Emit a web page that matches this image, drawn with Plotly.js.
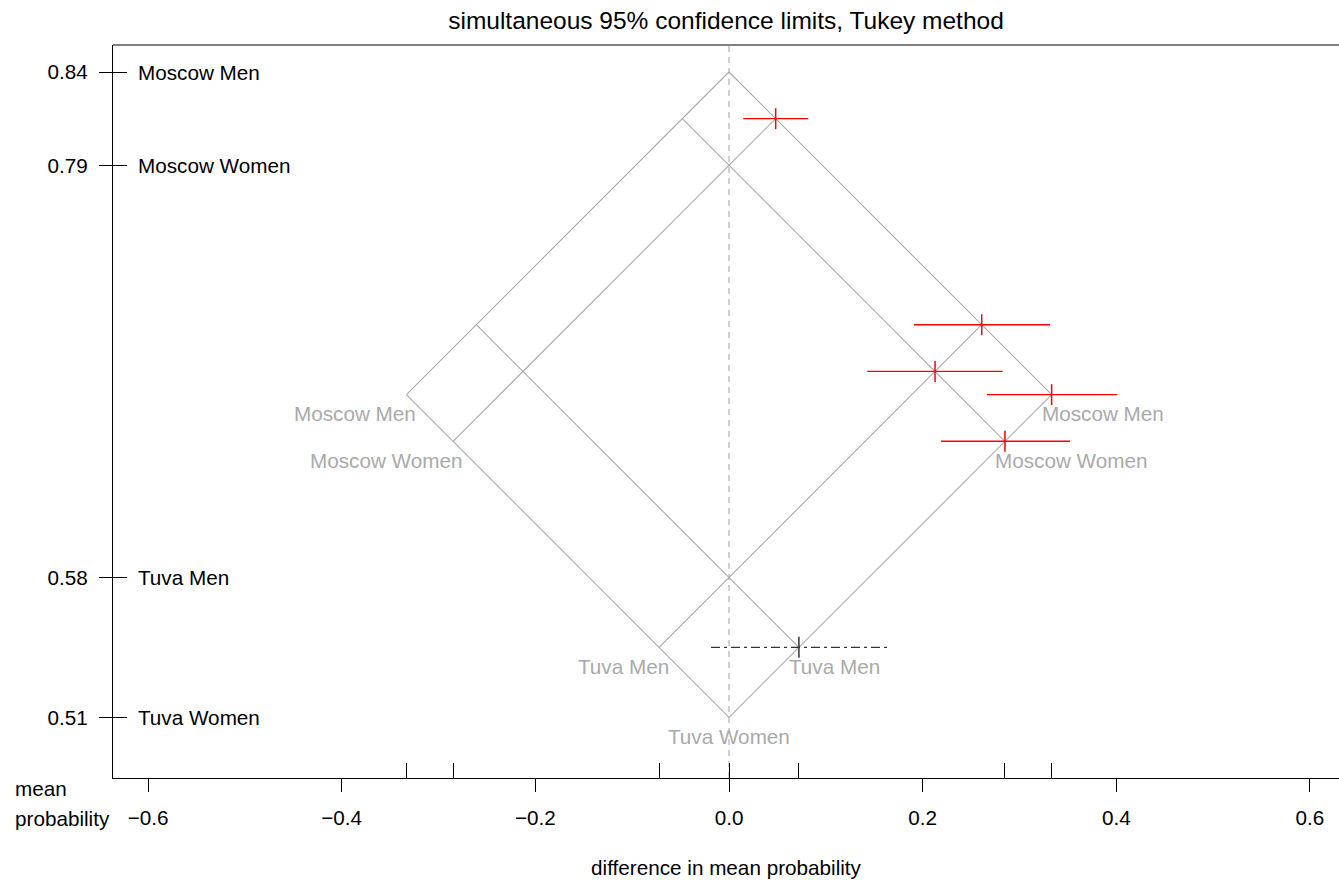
<!DOCTYPE html>
<html>
<head>
<meta charset="utf-8">
<script src="https://cdn.plot.ly/plotly-3.0.1.min.js"></script>
<style>html,body{margin:0;padding:0;overflow:hidden;background:#fff}</style>
</head>
<body>
<div id="chart" style="width:1339px;height:882px"></div>
<script>
// ---- data ----
const groups = ["Moscow Men", "Moscow Women", "Tuva Men", "Tuva Women"];
const groupMeans = [0.8420, 0.7938, 0.5810, 0.5088];
const meanTickLabels = ["0.84", "0.79", "0.58", "0.51"];

const contrastFirst  = [0, 0, 1, 0, 1, 2];
const contrastSecond = [1, 2, 2, 3, 3, 3];
const contrastEstimate = [0.0482, 0.2610, 0.2128, 0.3332, 0.2850, 0.0722];
const contrastLower    = [0.0146, 0.1911, 0.1428, 0.2664, 0.2189, -0.0186];
const contrastUpper    = [0.0818, 0.3315, 0.2827, 0.4010, 0.3522, 0.1639];

const xTickValues = [-0.6, -0.4, -0.2, 0.0, 0.2, 0.4, 0.6];
const xTickLabels = ["\u22120.6", "\u22120.4", "\u22120.2", "0.0", "0.2", "0.4", "0.6"];

// ---- build ----
const FONT = "Liberation Sans, Arial, Helvetica, sans-serif";
const FS = 20.7;
const GRAY = "#aaaaaa";
const xRange = [-0.6362, 0.6300];
const yRange = [0.47745, 0.85594];

const mMax = Math.max(...groupMeans);
const mMin = Math.min(...groupMeans);

const traces = [];

// isomeans grid
const gx = [], gy = [];
groupMeans.forEach(m => {
  gx.push(m - mMax, m - mMin, null);
  gy.push((m + mMax) / 2, (m + mMin) / 2, null);
  gx.push(mMax - m, mMin - m, null);
  gy.push((m + mMax) / 2, (m + mMin) / 2, null);
});
traces.push({x: gx, y: gy, mode: "lines", line: {color: GRAY, width: 1.1},
  hoverinfo: "skip", showlegend: false});

// contrasts
contrastEstimate.forEach((est, k) => {
  const h = (groupMeans[contrastFirst[k]] + groupMeans[contrastSecond[k]]) / 2;
  const sig = contrastLower[k] > 0 || contrastUpper[k] < 0;
  const col = sig ? "#ff0000" : "#333333";
  traces.push({x: [contrastLower[k], contrastUpper[k]], y: [h, h], mode: "lines",
    line: {color: col, width: 1.4, dash: sig ? "solid" : "9px,4px,3px,4px"},
    hoverinfo: "skip", showlegend: false});
  traces.push({x: [est], y: [h], mode: "markers",
    marker: {symbol: "line-ns", size: 15, line: {color: col, width: 1.5}},
    hoverinfo: "skip", showlegend: false});
});

// invisible trace for overlay axes
traces.push({x: [0], y: [0.6], xaxis: "x2", yaxis: "y2", mode: "markers",
  marker: {opacity: 0}, hoverinfo: "skip", showlegend: false});

// inner tick positions at the grid's lower endpoints
const innerTicks = [];
groupMeans.forEach(m => { innerTicks.push(m - mMin); if (m !== mMin) innerTicks.push(mMin - m); });

const annotations = [];
// group names at left
groups.forEach((g, i) => {
  annotations.push({xref: "paper", yref: "y", x: 0, y: groupMeans[i], text: g,
    xanchor: "left", yanchor: "middle", xshift: 23, showarrow: false,
    font: {family: FONT, size: FS, color: "#000"}});
});
// gray labels at grid ends
groups.forEach((g, i) => {
  const m = groupMeans[i];
  const yy = (m + mMin) / 2;
  if (m === mMin) {
    annotations.push({x: 0, y: yy, text: g, xanchor: "center", yanchor: "middle",
      yshift: -19, showarrow: false, font: {family: FONT, size: FS, color: GRAY}});
  } else {
    annotations.push({x: mMin - m, y: yy, text: g, xanchor: "right", yanchor: "middle",
      xshift: 12, yshift: -19, showarrow: false, font: {family: FONT, size: FS, color: GRAY}});
    annotations.push({x: m - mMin, y: yy, text: g, xanchor: "left", yanchor: "middle",
      xshift: -12, yshift: -19, showarrow: false, font: {family: FONT, size: FS, color: GRAY}});
  }
});
// "mean probability" label
annotations.push({xref: "paper", yref: "paper", x: 0, y: 0, text: "mean", xanchor: "left",
  yanchor: "middle", xshift: -100, yshift: -10, showarrow: false,
  font: {family: FONT, size: FS, color: "#000"}});
annotations.push({xref: "paper", yref: "paper", x: 0, y: 0, text: "probability", xanchor: "left",
  yanchor: "middle", xshift: -100, yshift: -40, showarrow: false,
  font: {family: FONT, size: FS, color: "#000"}});

const layout = {
  width: 1339, height: 882,
  margin: {l: 113, r: 0, t: 45, b: 104},
  paper_bgcolor: "#fff", plot_bgcolor: "#fff",
  font: {family: FONT, size: FS, color: "#000"},
  showlegend: false,
  hovermode: false,
  title: {text: "simultaneous 95% confidence limits, Tukey method", x: 0.5, xref: "paper",
    xanchor: "center", y: 1 - 20 / 882, yref: "container", yanchor: "middle",
    font: {family: FONT, size: 24.5, color: "#000"}},
  xaxis: {range: xRange, showgrid: false, zeroline: false, showline: true,
    linecolor: "#000", linewidth: 1, ticks: "outside", ticklen: 13, tickwidth: 1,
    tickcolor: "#000", tickvals: xTickValues, ticktext: xTickLabels,
    ticklabelstandoff: 8,
    title: {text: "difference in mean probability", standoff: 32,
      font: {family: FONT, size: FS, color: "#000"}},
    automargin: false, fixedrange: true},
  yaxis: {range: yRange, showgrid: false, zeroline: false, showline: true,
    linecolor: "#000", linewidth: 1, ticks: "outside", ticklen: 13, tickwidth: 1,
    tickcolor: "#000", tickvals: groupMeans, ticktext: meanTickLabels,
    ticklabelstandoff: 7, automargin: false, fixedrange: true},
  xaxis2: {range: xRange, overlaying: "x", anchor: "y", side: "bottom", showgrid: false,
    zeroline: false, showline: false, ticks: "inside", ticklen: 15, tickwidth: 1,
    tickcolor: "#000", tickvals: innerTicks, showticklabels: false, fixedrange: true},
  yaxis2: {range: yRange, overlaying: "y", anchor: "x", side: "left", showgrid: false,
    zeroline: false, showline: false, ticks: "inside", ticklen: 14, tickwidth: 1,
    tickcolor: "#000", tickvals: groupMeans, showticklabels: false, fixedrange: true},
  shapes: [
    {type: "line", xref: "x", yref: "paper", x0: 0, x1: 0, y0: 0, y1: 1,
      line: {color: GRAY, width: 1.1, dash: "6px,5px"}, layer: "below"},
    {type: "line", xref: "paper", yref: "paper", x0: 0, x1: 1, y0: 1, y1: 1,
      line: {color: "#000", width: 1}}
  ],
  annotations: annotations
};

Plotly.newPlot("chart", traces, layout, {displayModeBar: false, staticPlot: true});
</script>
</body>
</html>
